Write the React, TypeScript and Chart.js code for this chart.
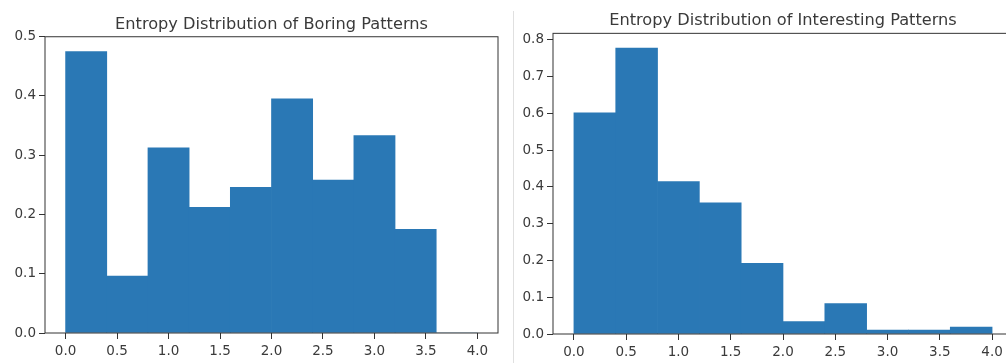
import React, { useEffect, useRef } from 'react';
import { Chart, registerables } from 'chart.js';

Chart.register(...registerables);

// Histogram bins: width 0.4 from 0.0 to 4.0 (centers)
const binCenters = [0.2, 0.6, 1.0, 1.4, 1.8, 2.2, 2.6, 3.0, 3.4, 3.8];
const boringDensity = [0.475, 0.096, 0.3125, 0.212, 0.246, 0.395, 0.258, 0.333, 0.175, 0];
const interestingDensity = [0.602, 0.778, 0.4145, 0.357, 0.192, 0.034, 0.0825, 0.011, 0.011, 0.019];

const xTickValues = [0, 0.5, 1.0, 1.5, 2.0, 2.5, 3.0, 3.5, 4.0];
const boringYTicks = [0, 0.1, 0.2, 0.3, 0.4, 0.5];
const interestingYTicks = [0, 0.1, 0.2, 0.3, 0.4, 0.5, 0.6, 0.7, 0.8];

const boringTitle = 'Entropy Distribution of Boring Patterns';
const interestingTitle = 'Entropy Distribution of Interesting Patterns';

const FONT = 'DejaVu Sans';
const BAR_COLOR = '#2a78b5';
const AXIS_COLOR = '#333333';
const TEXT_COLOR = '#3a3a3a';
const TITLE_SIZE = 16.2;
const TICK_SIZE = 13.5;

const framePlugin = {
  id: 'frame',
  afterDatasetsDraw(chart: any) {
    const { ctx, chartArea: a } = chart;
    ctx.save();
    ctx.strokeStyle = AXIS_COLOR;
    ctx.lineWidth = 1;
    ctx.strokeRect(a.left, a.top, a.right - a.left, a.bottom - a.top);
    ctx.restore();
  },
};

type HistProps = {
  title: string;
  values: number[];
  yTicks: number[];
  yMax: number;
  xMin: number;
  xMax: number;
  width: number;
  height: number;
  left: number;
  padRight: number;
  yAxisWidth: number;
  xAxisHeight: number;
  titlePadTop: number;
  titlePadBottom: number;
};

function Histogram(p: HistProps) {
  const ref = useRef<HTMLCanvasElement | null>(null);
  useEffect(() => {
    if (!ref.current) return;
    const chart = new Chart(ref.current, {
      type: 'bar',
      data: {
        datasets: [
          {
            data: binCenters.map((x, i) => ({ x, y: p.values[i] })),
            backgroundColor: BAR_COLOR,
            borderWidth: 0,
            barPercentage: 1,
            categoryPercentage: 1,
          },
        ],
      },
      options: {
        animation: false,
        responsive: false,
        layout: { padding: { left: 0, right: p.padRight, top: 0, bottom: 0 } },
        plugins: {
          legend: { display: false },
          tooltip: { enabled: false },
          title: {
            display: true,
            text: p.title,
            fullSize: false,
            color: TEXT_COLOR,
            font: { family: FONT, size: TITLE_SIZE, weight: 'normal', lineHeight: 1.2 },
            padding: { top: p.titlePadTop, bottom: p.titlePadBottom },
          },
        },
        scales: {
          x: {
            type: 'linear',
            min: p.xMin,
            max: p.xMax,
            offset: false,
            afterBuildTicks: (scale: any) => {
              scale.ticks = xTickValues.map((v) => ({ value: v }));
            },
            afterFit: (scale: any) => {
              scale.height = p.xAxisHeight;
            },
            grid: {
              display: true,
              offset: false,
              drawOnChartArea: false,
              drawTicks: true,
              tickLength: 6,
              tickColor: AXIS_COLOR,
              color: AXIS_COLOR,
            },
            border: { display: false },
            ticks: {
              color: TEXT_COLOR,
              padding: 4,
              maxRotation: 0,
              autoSkip: false,
              font: { family: FONT, size: TICK_SIZE },
              callback: (v: any) => Number(v).toFixed(1),
            },
          },
          y: {
            type: 'linear',
            min: 0,
            max: p.yMax,
            afterBuildTicks: (scale: any) => {
              scale.ticks = p.yTicks.map((v) => ({ value: v }));
            },
            afterFit: (scale: any) => {
              scale.width = p.yAxisWidth;
            },
            grid: {
              display: true,
              drawOnChartArea: false,
              drawTicks: true,
              tickLength: 6,
              tickColor: AXIS_COLOR,
              color: AXIS_COLOR,
            },
            border: { display: false },
            ticks: {
              color: TEXT_COLOR,
              padding: 3,
              autoSkip: false,
              font: { family: FONT, size: TICK_SIZE },
              callback: (v: any) => Number(v).toFixed(1),
            },
          },
        },
      } as any,
      plugins: [framePlugin],
    });
    return () => chart.destroy();
  }, []);
  return (
    <canvas
      ref={ref}
      width={p.width}
      height={p.height}
      style={{ position: 'absolute', left: p.left, top: 0, width: p.width, height: p.height }}
    />
  );
}

export default function App() {
  return (
    <div
      style={{
        position: 'fixed',
        left: 0,
        top: 0,
        width: 1006,
        height: 363,
        overflow: 'hidden',
        background: '#ffffff',
      }}
    >
      <Histogram
        title={boringTitle}
        values={boringDensity}
        yTicks={boringYTicks}
        yMax={0.5}
        xMin={-0.2}
        xMax={4.2}
        width={513}
        height={363}
        left={0}
        padRight={15}
        yAxisWidth={45}
        xAxisHeight={30}
        titlePadTop={14.8}
        titlePadBottom={2.5}
      />
      <div
        style={{
          position: 'absolute',
          left: 513,
          top: 11,
          width: 1,
          height: 352,
          background: '#e0e0e0',
        }}
      />
      <Histogram
        title={interestingTitle}
        values={interestingDensity}
        yTicks={interestingYTicks}
        yMax={0.818}
        xMin={-0.2}
        xMax={4.2}
        width={520}
        height={363}
        left={514}
        padRight={21}
        yAxisWidth={39}
        xAxisHeight={29}
        titlePadTop={11.5}
        titlePadBottom={2.4}
      />
    </div>
  );
}
